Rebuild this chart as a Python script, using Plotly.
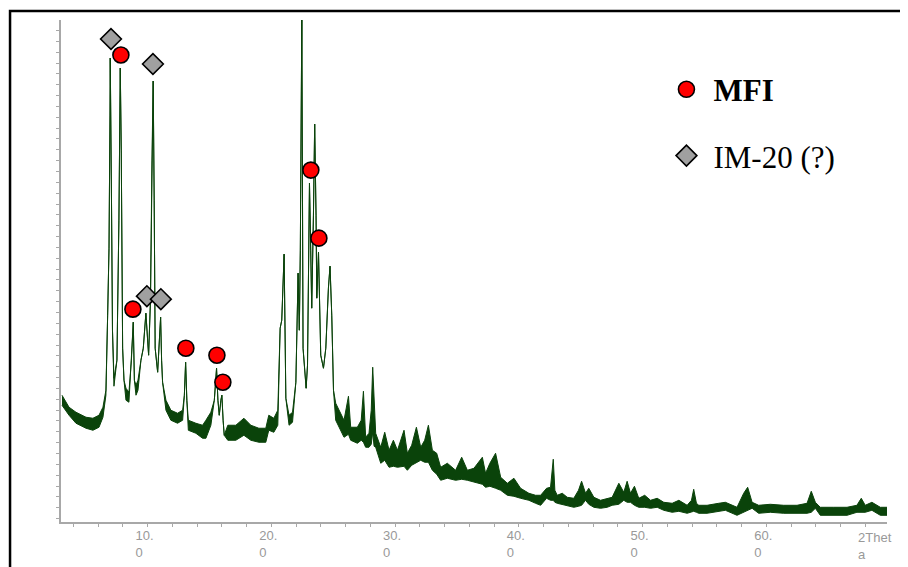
import plotly.graph_objects as go

# ---- XRD pattern (2-theta in degrees, intensity in counts); band = noise envelope ----
two_theta = [3.08, 3.65, 4.21, 5.02, 5.58, 6.07, 6.39, 6.63, 6.77, 6.88, 6.96, 6.98, 7.08, 7.16, 7.28, 7.52, 7.68, 7.79, 7.87, 7.98,
             8.09, 8.25, 8.49, 8.69, 8.84, 8.93, 9.06, 9.22, 9.46, 9.65, 9.86, 10.08, 10.23, 10.35, 10.45, 10.53, 10.61, 10.81, 10.95, 11.05,
             11.13, 11.21, 11.48, 11.88, 12.42, 12.83, 12.97, 13.07, 13.17, 13.29, 13.90, 14.44, 14.71, 15.11, 15.39, 15.57, 15.68, 15.79, 15.92, 16.00,
             16.10, 16.19, 16.48, 17.13, 17.78, 18.34, 18.99, 19.55, 19.79, 20.20, 20.52, 20.71, 20.84, 21.03, 21.17, 21.43, 21.71, 21.98, 22.16, 22.26,
             22.34, 22.46, 22.56, 22.70, 22.81, 22.92, 23.08, 23.18, 23.26, 23.40, 23.50, 23.61, 23.67, 23.81, 23.91, 23.99, 24.21, 24.40, 24.61, 24.74,
             24.88, 25.02, 25.20, 25.61, 25.87, 26.23, 26.41, 26.95, 27.26, 27.44, 27.62, 27.89, 28.07, 28.19, 28.30, 28.43, 28.84, 29.16, 29.51, 29.86,
             30.19, 30.72, 30.99, 31.34, 31.72, 32.07, 32.39, 32.69, 33.01, 33.36, 33.68, 34.22, 34.89, 35.38, 35.84, 36.37, 37.05, 37.31, 37.66, 38.12,
             38.53, 39.07, 39.60, 40.14, 40.81, 41.35, 41.76, 42.24, 42.56, 42.78, 42.91, 43.10, 43.51, 43.91, 44.44, 44.82, 45.07, 45.39, 45.65, 46.06,
             46.60, 47.14, 47.54, 48.08, 48.48, 48.75, 49.02, 49.34, 49.69, 50.17, 50.64, 51.18, 51.71, 52.39, 52.93, 53.60, 53.95, 54.13, 54.35, 54.54,
             55.21, 56.15, 56.69, 57.63, 58.17, 58.49, 58.85, 59.38, 60.32, 61.40, 62.48, 63.29, 63.63, 63.96, 64.36, 65.43, 66.52, 67.32, 67.67, 67.99,
             68.53, 69.21, 69.75]

counts_upper = [1270, 1150, 1100, 1050, 1040, 1070, 1150, 1320, 2070, 2740, 4070, 4640, 3220, 1920, 1440, 1620, 3020, 4540, 3720, 1740,
                1420, 1340, 1300, 1620, 2000, 1420, 1370, 1420, 1620, 1740, 2090, 1670, 2220, 3620, 4410, 3220, 1740, 1500, 1820, 2050,
                1620, 1400, 1220, 1120, 1090, 1120, 1270, 1600, 1220, 1020, 990, 970, 1020, 1100, 1220, 1540, 1220, 1070, 1220, 1270,
                1020, 870, 970, 970, 1040, 970, 940, 940, 1070, 1040, 1120, 1940, 2020, 2680, 1240, 1070, 1100, 1400, 2490, 1920,
                2720, 5050, 1740, 1470, 1340, 1570, 3390, 2720, 2140, 3070, 3980, 3070, 2240, 2700, 1900, 1670, 1540, 1740, 2340, 2560,
                2070, 1320, 1190, 1090, 1020, 1260, 950, 950, 1020, 1310, 850, 890, 1120, 1550, 1150, 890, 750, 900, 720, 820,
                720, 920, 690, 770, 950, 750, 820, 970, 720, 690, 550, 590, 520, 650, 520, 540, 650, 490, 590, 690,
                450, 390, 440, 340, 290, 270, 270, 340, 350, 630, 320, 270, 290, 250, 240, 320, 410, 290, 340, 250,
                220, 240, 250, 390, 300, 410, 290, 360, 240, 270, 220, 240, 200, 190, 220, 170, 220, 330, 190, 170,
                170, 190, 200, 150, 290, 350, 200, 170, 180, 170, 170, 190, 310, 200, 150, 150, 150, 170, 240, 170,
                200, 150, 150]

counts_lower = [1170, 1070, 990, 940, 920, 950, 1050, 1270, 2070, 2740, 4070, 4640, 3220, 1920, 1360, 1620, 3020, 4540, 3720, 1740,
                1420, 1220, 1200, 1620, 2000, 1420, 1270, 1320, 1620, 1740, 2090, 1670, 2220, 3620, 4410, 3220, 1740, 1500, 1820, 2050,
                1620, 1400, 1120, 1020, 990, 1020, 1270, 1600, 1220, 920, 890, 840, 840, 970, 1220, 1540, 1220, 1070, 1220, 1270,
                1020, 870, 820, 820, 870, 820, 800, 800, 920, 900, 970, 1940, 2020, 2680, 1240, 970, 1000, 1400, 2490, 1920,
                2720, 5050, 1740, 1470, 1340, 1570, 3390, 2720, 2140, 3070, 3980, 3070, 2240, 2700, 1900, 1670, 1540, 1740, 2340, 2560,
                2070, 1320, 1020, 920, 850, 880, 820, 790, 820, 800, 750, 750, 780, 900, 760, 750, 590, 620, 550, 560,
                550, 560, 520, 570, 600, 620, 600, 600, 520, 480, 420, 440, 420, 430, 420, 400, 380, 350, 360, 340,
                320, 270, 260, 240, 220, 190, 170, 240, 220, 220, 200, 190, 180, 170, 150, 160, 170, 220, 180, 150,
                140, 150, 170, 180, 220, 200, 200, 170, 150, 150, 140, 150, 120, 100, 110, 90, 100, 110, 100, 90,
                90, 110, 120, 70, 100, 120, 140, 90, 100, 90, 90, 90, 100, 140, 70, 70, 70, 100, 100, 100,
                120, 70, 70]

# ---- Phase markers ----
mfi_theta = [7.84, 8.81, 13.09, 15.60, 16.08, 23.19, 23.84]
mfi_counts = [4670, 2130, 1740, 1670, 1400, 3520, 2840]
im20_theta = [7.04, 10.43, 9.94, 11.07]
im20_counts = [4830, 4580, 2260, 2230]

# ---- Axis ticks ----
x_tick_vals = list(range(4, 69, 2))
x_label_vals = [10, 20, 30, 40, 50, 60]
x_tick_text = [(f"{v}.<br>0\u00a0\u00a0\u00a0" if v in x_label_vals else "") for v in x_tick_vals]
x_title = "2Thet<br>a"

GREEN = "#0a430a"
GREY_AXIS = "#a8a8a8"
GREY_TEXT = "#999999"

fig = go.Figure()
fig.add_trace(go.Scatter(x=two_theta, y=counts_lower, mode="lines",
                         line=dict(color=GREEN, width=1), showlegend=False, hoverinfo="skip"))
fig.add_trace(go.Scatter(x=two_theta, y=counts_upper, mode="lines", fill="tonexty",
                         fillcolor=GREEN, line=dict(color=GREEN, width=1), showlegend=False, hoverinfo="skip"))
fig.add_trace(go.Scatter(x=mfi_theta, y=mfi_counts, mode="markers", name="<b>MFI</b>", legendgroup="a",
                         marker=dict(symbol="circle", size=16, color="#ff0000", line=dict(color="black", width=1.6))))
fig.add_trace(go.Scatter(x=im20_theta, y=im20_counts, mode="markers", name="IM-20 (?)", legendgroup="b",
                         marker=dict(symbol="diamond", size=16, color="#a0a0a0", line=dict(color="black", width=1.6))))

fig.update_layout(
    width=900, height=559,
    margin=dict(l=53, r=21, t=12, b=45),
    paper_bgcolor="white", plot_bgcolor="white",
    font=dict(family="Arial, Liberation Sans, sans-serif", size=13, color=GREY_TEXT),
    xaxis=dict(range=[3, 69.75], showgrid=False, zeroline=False, showline=True, linecolor=GREY_AXIS, linewidth=1.5,
               ticks="outside", ticklen=3, tickcolor=GREY_AXIS, tickvals=x_tick_vals, ticktext=x_tick_text,
               ticklabelshift=-3, ticklabelstandoff=-2, automargin=False,
               tickfont=dict(size=13, color=GREY_TEXT)),
    yaxis=dict(range=[3, 5020], showgrid=False, zeroline=False, showline=True, linecolor=GREY_AXIS, linewidth=1.5,
               ticks="outside", ticklen=3, tickcolor=GREY_AXIS, tick0=37, dtick=108.4, showticklabels=False,
               automargin=False),
    legend=dict(x=0.7245, y=0.915, xanchor="left", yanchor="top", bgcolor="rgba(0,0,0,0)",
                font=dict(family="Liberation Serif, Times New Roman, serif", size=31, color="black"),
                traceorder="grouped", tracegroupgap=23, itemwidth=44),
    annotations=[dict(x=68, y=0, xref="x", yref="paper", text=x_title, showarrow=False, xanchor="left",
                      yanchor="top", align="left", xshift=-9, yshift=-6,
                      font=dict(size=13, color=GREY_TEXT))],
    shapes=[dict(type="rect", xref="paper", yref="paper", x0=-0.0617, x1=1.2, y0=-0.3, y1=1.018,
                 line=dict(color="black", width=2.5), layer="above")],
)

fig.write_html("out.html")
